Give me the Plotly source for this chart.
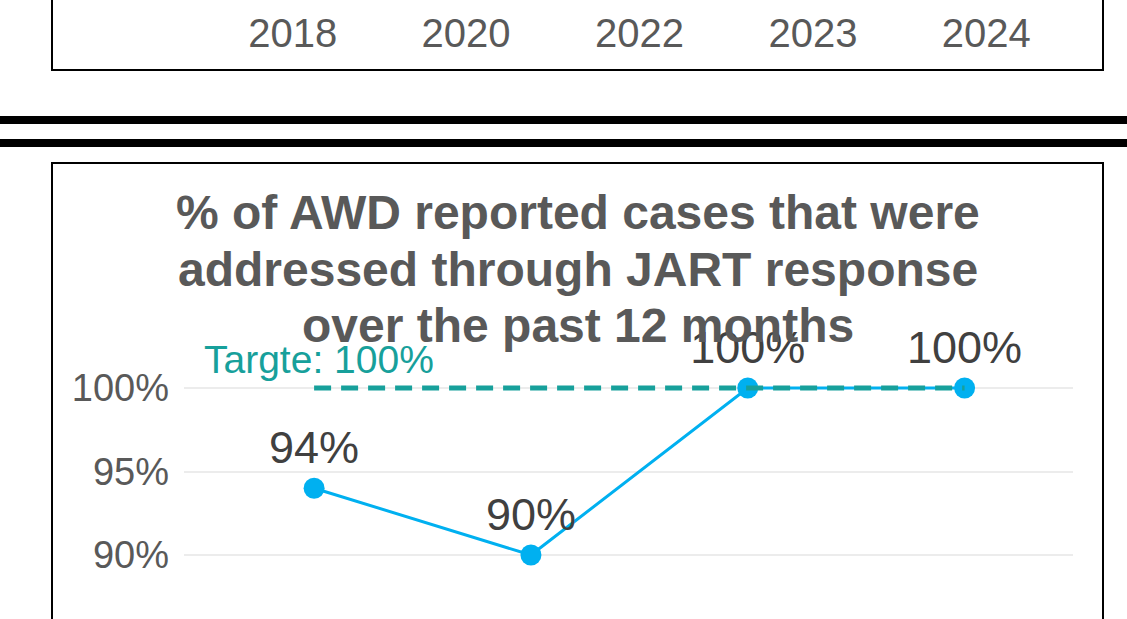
import plotly.graph_objects as go

# ---- data ----
top_years = ["2018", "2020", "2022", "2023", "2024"]
years = ["2020", "2022", "2023", "2024"]
pct_addressed = [94, 90, 100, 100]
target = 100
title_lines = [
    "% of AWD reported cases that were",
    "addressed through JART response",
    "over the past 12 months",
]

W, H = 1127, 619
FONT = "Liberation Sans, Arial, sans-serif"


def fx(x):
    return x / W


def fy(y):
    return 1 - y / H


fig = go.Figure()

# main series
fig.add_trace(go.Scatter(
    x=years, y=pct_addressed, mode="lines+markers+text",
    line=dict(color="#00b0f0", width=3),
    marker=dict(color="#00b0f0", size=21),
    text=[f"{v}%" for v in pct_addressed], textposition="top center",
    textfont=dict(family=FONT, size=45, color="#404040"),
    cliponaxis=False, xaxis="x", yaxis="y", showlegend=False,
))

# target dashed line (drawn on top)
fig.add_trace(go.Scatter(
    x=years, y=[target] * len(years), mode="lines",
    line=dict(color="#17a09b", width=5, dash="17px,10px"),
    xaxis="x", yaxis="y", hoverinfo="skip", showlegend=False,
))

# invisible trace for the top (previous) chart's axis
fig.add_trace(go.Scatter(
    x=top_years, y=[0.5] * len(top_years), mode="markers",
    marker=dict(opacity=0), xaxis="x2", yaxis="y2",
    hoverinfo="skip", showlegend=False,
))

shapes = [
    # top box (previous chart frame)
    dict(type="rect", xref="paper", yref="paper", x0=fx(52), x1=fx(1103),
         y0=fy(70), y1=fy(-60), line=dict(color="black", width=2)),
    # bottom box
    dict(type="rect", xref="paper", yref="paper", x0=fx(52), x1=fx(1103),
         y0=fy(700), y1=fy(163), line=dict(color="black", width=2)),
    # thick separator bars
    dict(type="rect", xref="paper", yref="paper", x0=-0.01, x1=1.01,
         y0=fy(124), y1=fy(116), line=dict(width=0), fillcolor="black"),
    dict(type="rect", xref="paper", yref="paper", x0=-0.01, x1=1.01,
         y0=fy(147), y1=fy(139), line=dict(width=0), fillcolor="black"),
]

annotations = []
for i, (line, yc) in enumerate(zip(title_lines, [212, 270, 325])):
    annotations.append(dict(
        text=f"<b>{line}</b>", xref="paper", yref="paper",
        x=fx(578), y=fy(yc), xanchor="center", yanchor="middle",
        showarrow=False, font=dict(family=FONT, size=48, color="#595959"),
    ))
annotations.append(dict(
    text=f"Targte: {target}%", xref="paper", yref="paper",
    x=fx(202), y=fy(359), xanchor="left", yanchor="middle",
    showarrow=False, font=dict(family=FONT, size=39, color="#17a09b"),
))

fig.update_layout(
    width=W, height=H, autosize=False,
    margin=dict(l=0, r=0, t=0, b=0),
    paper_bgcolor="white", plot_bgcolor="rgba(0,0,0,0)",
    font=dict(family=FONT),
    shapes=shapes, annotations=annotations,
    xaxis=dict(domain=[fx(184), fx(1073)], type="category",
               categoryorder="array", categoryarray=years,
               range=[-0.6, 3.5], showgrid=False, showline=False,
               zeroline=False, showticklabels=False, anchor="y"),
    yaxis=dict(domain=[0, fy(300)], range=[86.17, 105.27],
               tickvals=[90, 95, 100], ticktext=["90%", "95%", "100%"],
               showgrid=True, gridcolor="#ececec", gridwidth=2,
               zeroline=False, showline=False, ticks="",
               ticklabelstandoff=14,
               tickfont=dict(family=FONT, size=38, color="#595959"),
               anchor="x"),
    xaxis2=dict(domain=[fx(206), fx(1073)], type="category",
                categoryorder="array", categoryarray=top_years,
                range=[-0.5, 4.5], showgrid=False, showline=False,
                zeroline=False, ticks="", anchor="y2",
                tickfont=dict(family=FONT, size=40, color="#595959")),
    yaxis2=dict(domain=[fy(6), 1], range=[0, 1], visible=False,
                anchor="x2"),
)

fig.write_html(
    "out.html",
    config={"displayModeBar": False},
    post_script="document.body.style.margin='0';document.body.style.overflow='hidden';",
)
